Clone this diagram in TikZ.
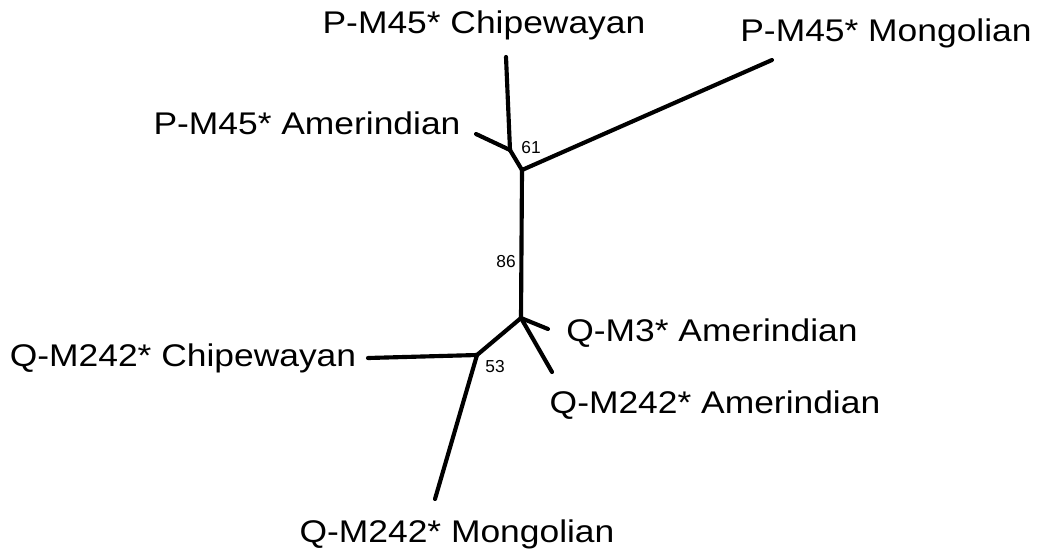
\documentclass[tikz,border=0pt]{standalone}
\usepackage{fontspec}
\newfontfamily\taxonfont[FakeStretch=1.13]{Liberation Sans}
\newfontfamily\bootfont{Liberation Sans}
\tikzset{
  branch/.style={line width=3.1pt, line cap=round},
  taxon/.style={font=\taxonfont\fontsize{23.5}{26}\selectfont, inner sep=0pt},
  boot/.style={font=\bootfont\fontsize{13}{15}\selectfont, inner sep=0pt}
}

\begin{document}
\begin{tikzpicture}[x=0.75pt, y=-0.75pt]
		%%%%% START %%%%%
		\useasboundingbox (0, 0) rectangle (1044, 557);
		
		% inner nodes
		\coordinate (pm) at (522, 170);
		\coordinate (pa) at (510, 150);
		\coordinate (qm) at (521, 318);
		\coordinate (qc) at (477, 355);
		
		% leaves
		\coordinate (pchipend) at (506, 57);
		\coordinate (pamerend) at (476, 134);
		\coordinate (pmongend) at (772, 60);
		\coordinate (qmthreeend) at (548, 329);
		\coordinate (qamerend) at (552, 372);
		\coordinate (qchipend) at (368, 358);
		\coordinate (qmongend) at (435, 499);
		
		\draw[branch] (pm) -- (qm);
		\draw[branch] (pm) -- (pa);
		\draw[branch] (pa) -- (pchipend);
		\draw[branch] (pa) -- (pamerend);
		\draw[branch] (pm) -- (pmongend);
		\draw[branch] (qm) -- (qc);
		\draw[branch] (qm) -- (qmthreeend);
		\draw[branch] (qm) -- (qamerend);
		\draw[branch] (qc) -- (qchipend);
		\draw[branch] (qc) -- (qmongend);
		
		\node[taxon] (pchip) at (484, 25) {P-M45* Chipewayan};
		\node[taxon] (pmong) at (886, 33) {P-M45* Mongolian};
		\node[taxon] (pamer) at (307, 123) {P-M45* Amerindian};
		\node[taxon] (qchip) at (183, 358) {Q-M242* Chipewayan};
		\node[taxon] (qmthree) at (712, 333) {Q-M3* Amerindian};
		\node[taxon] (qamer) at (715, 405) {Q-M242* Amerindian};
		\node[taxon] (qmong) at (457, 534) {Q-M242* Mongolian};
		
		\node[boot] (bsixtyone) at (531, 148) {61};
		\node[boot] (beightysix) at (506, 262) {86};
		\node[boot] (bfiftythree) at (495, 367) {53};
		%%%%% END %%%%%
\end{tikzpicture}
\end{document}
